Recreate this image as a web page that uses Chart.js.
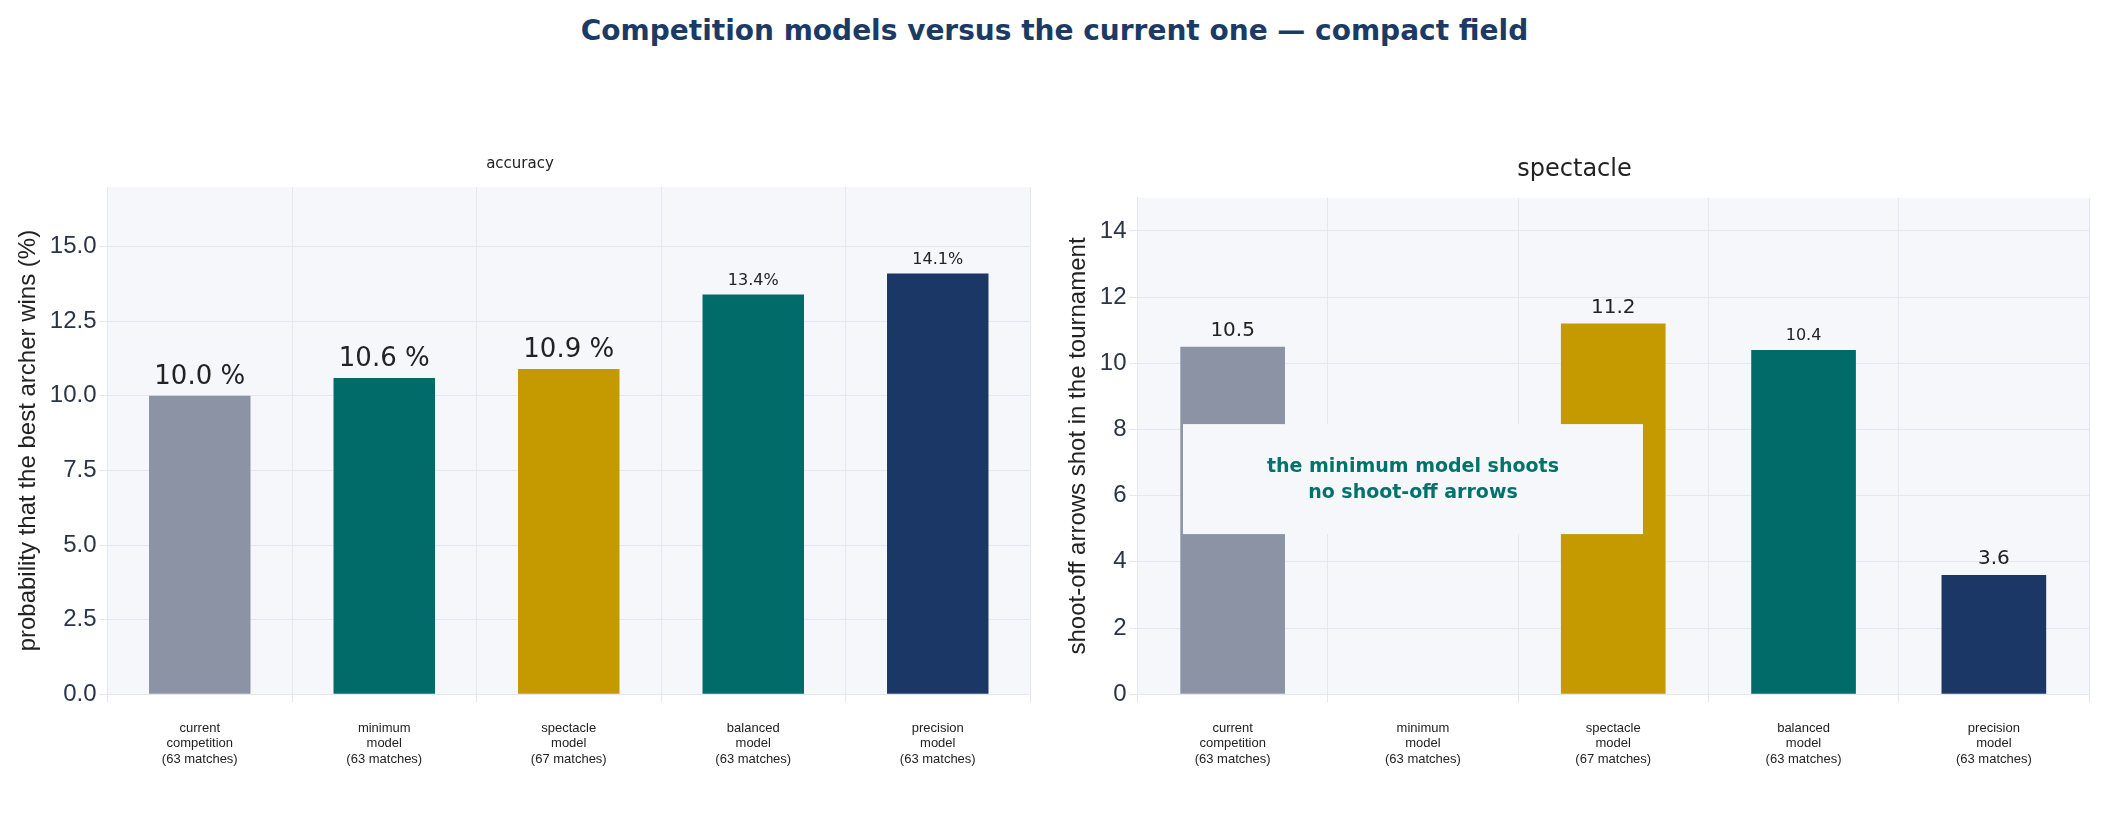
<!DOCTYPE html><html><head><meta charset="utf-8">
<script src="https://cdn.jsdelivr.net/npm/chart.js@4"></script>
<style>body{margin:0;background:#fff;width:2109px;height:832px;overflow:hidden;font-family:"DejaVu Sans"}
#t{position:absolute;top:14px;width:2109px;text-align:center;font:bold 28px "DejaVu Sans";color:#1b3a66}
.c{position:absolute;top:145px;height:640px}</style></head><body>
<div id="t">Competition models versus the current one — compact field</div>
<div class="c" style="left:10px;width:1040px"><canvas id="a"></canvas></div>
<div class="c" style="left:1060px;width:1049px"><canvas id="b"></canvas></div>
<script>
const categories=[["current","competition","(63 matches)"],["minimum","model","(63 matches)"],["spectacle","model","(67 matches)"],["balanced","model","(63 matches)"],["precision","model","(63 matches)"]];
const accuracy=[10.0,10.6,10.9,13.4,14.1];
const accuracyLabels=["10.0 %","10.6 %","10.9 %","13.4%","14.1%"];
const spectacle=[10.5,0,11.2,10.4,3.6];
const spectacleLabels=["10.5","","11.2","10.4","3.6"];
const accuracyTicks=[0,2.5,5,7.5,10,12.5,15];
const spectacleTicks=[0,2,4,6,8,10,12,14];
const colors=["#8b93a5","#006b69","#c49a00","#006b69","#1b3766"];
const labelPlugin={id:'lbl',afterDatasetsDraw(c){const ctx=c.ctx,m=c.getDatasetMeta(0),L=c.options.plugins.lbl;
 ctx.save();ctx.fillStyle='#222';ctx.textAlign='center';ctx.textBaseline='bottom';
 m.data.forEach((e,i)=>{ctx.font=(L.sizes[i])+'px "DejaVu Sans"';ctx.fillText(L.texts[i],e.x,e.y-6);});
 if(L.note){const x=c.scales.x.getPixelForValue(1),y=c.scales.y.getPixelForValue(L.noteY);
  ctx.fillStyle='#f5f7fb';ctx.fillRect(x-240,y-55,460,110);ctx.fillStyle='#00736c';ctx.font='bold 19px "DejaVu Sans"';
  ctx.textBaseline='middle';ctx.fillText('the minimum model shoots',x-10,y-12);ctx.fillText('no shoot-off arrows',x-10,y+14);}
 ctx.restore();}};
const bg={id:'bg',beforeDraw(c){const a=c.chartArea;c.ctx.save();c.ctx.fillStyle='#f5f7fb';c.ctx.fillRect(a.left,a.top,a.right-a.left,a.bottom-a.top);c.ctx.restore();}};
function mk(id,data,texts,sizes,max,tickVals,ylab,title,tsize,note){
 new Chart(document.getElementById(id),{type:'bar',plugins:[bg,labelPlugin],
 data:{labels:categories,datasets:[{data:data,backgroundColor:colors,categoryPercentage:1,barPercentage:0.55}]},
 options:{responsive:true,maintainAspectRatio:false,animation:false,layout:{padding:{right:20}},
 plugins:{legend:{display:false},tooltip:{enabled:false},title:{display:true,text:title,color:'#222',font:{size:tsize,weight:'normal',family:'DejaVu Sans'},padding:{top:10,bottom:14}},
  lbl:{texts:texts,sizes:sizes,note:note,noteY:6.5}},
 scales:{x:{grid:{color:'#e3e7ef'},border:{color:'#e3e7ef'},ticks:{color:'#222',font:{size:13},maxRotation:0,padding:18}},
  y:{min:0,max:max,afterBuildTicks:s=>{s.ticks=tickVals.map(v=>({value:v}));},
   ticks:{color:'#2a3448',font:{size:24},callback:v=>tickVals[1]===2.5?v.toFixed(1):v},grid:{color:'#e3e7ef'},border:{color:'#e3e7ef'},
   title:{display:true,text:ylab,color:'#222',font:{size:24}}}}}});}
mk('a',accuracy,accuracyLabels,[26,26,26,16,16],17,accuracyTicks,'probability that the best archer wins (%)','accuracy',15,false);
mk('b',spectacle,spectacleLabels,[20,20,20,16,20],15,spectacleTicks,'shoot-off arrows shot in the tournament','spectacle',24,true);
</script></body></html>
